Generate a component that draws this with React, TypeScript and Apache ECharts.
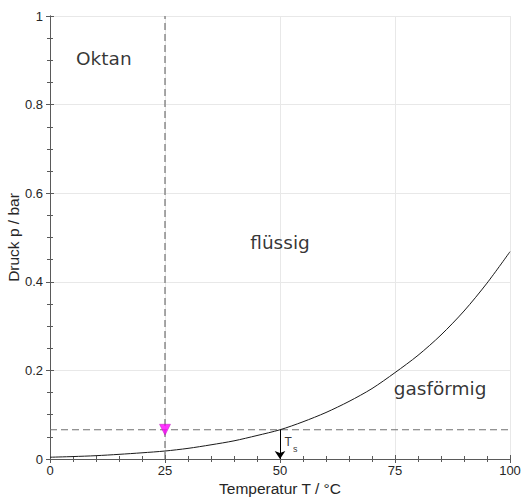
import React, { useEffect, useRef } from "react";
import * as echarts from "echarts";

// Vapour pressure curve of octane
const temperatures = [0, 5, 10, 15, 20, 25, 30, 35, 40, 45, 50, 55, 60, 65, 70, 75, 80, 85, 90, 95, 100];
const pressures = [0.004, 0.0055, 0.0075, 0.0105, 0.014, 0.018, 0.024, 0.032, 0.041, 0.053, 0.066, 0.084, 0.105, 0.13, 0.159, 0.195, 0.234, 0.28, 0.334, 0.397, 0.468];

const markerTemperature = 25;
const saturationTemperature = 50;
const saturationPressure = 0.066;

const regionNames = ["Oktan", "flüssig", "gasförmig"];
const regionT = [11.7, 50, 84.8];
const regionP = [0.905, 0.488, 0.16];

const xName = "Temperatur T / °C";
const yName = "Druck p / bar";

export default function App() {
  const ref = useRef<HTMLDivElement>(null);
  useEffect(() => {
    if (!ref.current) return;
    const chart = echarts.init(ref.current, undefined, { renderer: "svg" });
    const axisColor = "#5a5a5a";
    const labelFont = { fontFamily: "Liberation Sans", fontSize: 13, color: "#262626" };
    const baseX = {
      type: "value" as const,
      min: 0,
      max: 100,
      interval: 25,
      axisLine: { show: true, lineStyle: { color: axisColor, width: 1 } },
      axisTick: { show: true, inside: true, length: 4, lineStyle: { color: axisColor } },
      minorTick: { show: true, splitNumber: 5, length: 3, lineStyle: { color: axisColor } },
    };
    const baseY = {
      type: "value" as const,
      min: 0,
      max: 1,
      interval: 0.2,
      axisLine: { show: true, lineStyle: { color: axisColor, width: 1 } },
      axisTick: { show: true, inside: true, length: 4, lineStyle: { color: axisColor } },
      minorTick: { show: true, splitNumber: 4, length: 3, lineStyle: { color: axisColor } },
    };
    const plainLabel = { textBorderWidth: 0, textShadowBlur: 0, color: "#000000" };
    chart.setOption({
      animation: false,
      backgroundColor: "#ffffff",
      grid: { left: 50, right: 11, top: 16, bottom: 39, containLabel: false, outerBoundsMode: "none" },
      xAxis: [
        {
          ...baseX,
          position: "bottom",
          name: xName,
          nameLocation: "middle",
          nameGap: 21,
          nameMoveOverlap: false,
          nameTextStyle: { ...labelFont, fontSize: 15.5 },
          axisLabel: { ...labelFont, margin: 5 },
          splitLine: { show: true, lineStyle: { color: "#e8e8e8", width: 1 } },
        },
        {
          ...baseX,
          position: "top",
          axisLabel: { show: false },
          splitLine: { show: false },
        },
      ],
      yAxis: [
        {
          ...baseY,
          position: "left",
          name: yName,
          nameLocation: "middle",
          nameGap: 29,
          nameMoveOverlap: false,
          nameTextStyle: { ...labelFont, fontSize: 15.5 },
          axisLabel: { ...labelFont, margin: 7 },
          splitLine: { show: true, lineStyle: { color: "#e8e8e8", width: 1 } },
        },
        {
          ...baseY,
          position: "right",
          axisLabel: { show: false },
          splitLine: { show: false },
        },
      ],
      series: [
        {
          type: "line",
          data: [[markerTemperature, 0], [markerTemperature, 1]],
          showSymbol: false,
          symbol: "none",
          lineStyle: { color: "#707070", width: 1.2, type: [7, 4] },
          silent: true,
          z: 2,
        },
        {
          type: "line",
          data: [[0, saturationPressure], [100, saturationPressure]],
          showSymbol: false,
          symbol: "none",
          lineStyle: { color: "#707070", width: 1.2, type: [7, 4] },
          silent: true,
          z: 2,
        },
        {
          type: "line",
          data: temperatures.map((t, i) => [t, pressures[i]]),
          showSymbol: false,
          symbol: "none",
          smooth: 0.3,
          lineStyle: { color: "#1a1a1a", width: 1 },
          silent: true,
          z: 3,
          markLine: {
            silent: true,
            symbol: ["none", "arrow"],
            symbolSize: 8,
            label: { show: false },
            lineStyle: { color: "#000000", type: "solid", width: 1 },
            itemStyle: { color: "#000000" },
            data: [
              [
                { coord: [saturationTemperature, saturationPressure] },
                { coord: [saturationTemperature, 0] },
              ],
            ],
          },
        },
        {
          type: "scatter",
          data: [[markerTemperature, saturationPressure]],
          symbol: "triangle",
          symbolRotate: 180,
          symbolSize: 11,
          itemStyle: { color: "#ff00ff", borderColor: "#b000b0", borderWidth: 0.5 },
          silent: true,
          z: 5,
        },
        {
          type: "scatter",
          data: regionNames.map((n, i) => ({ value: [regionT[i], regionP[i]], name: n })),
          symbolSize: 0,
          silent: true,
          itemStyle: { color: "#000000" },
          label: {
            show: true,
            position: "inside",
            formatter: (p: any) => p.name,
            fontFamily: "DejaVu Sans",
            fontSize: 18.5,
            ...plainLabel,
          },
          z: 6,
        },
        {
          type: "scatter",
          data: [
            { value: [51.75, 0.0395], name: "T", fs: 12 },
            { value: [53.3, 0.0237], name: "s", fs: 9 },
          ].map((d) => ({
            value: d.value,
            name: d.name,
            label: { fontSize: d.fs, ...plainLabel },
          })),
          symbolSize: 0,
          silent: true,
          itemStyle: { color: "#000000" },
          label: {
            show: true,
            position: "inside",
            formatter: (p: any) => p.name,
            fontFamily: "Liberation Sans",
            ...plainLabel,
          },
          z: 6,
        },
      ],
    });
    return () => chart.dispose();
  }, []);
  return (
    <div
      ref={ref}
      style={{ position: "fixed", left: 0, top: 0, width: 521, height: 498, background: "#fff" }}
    />
  );
}
